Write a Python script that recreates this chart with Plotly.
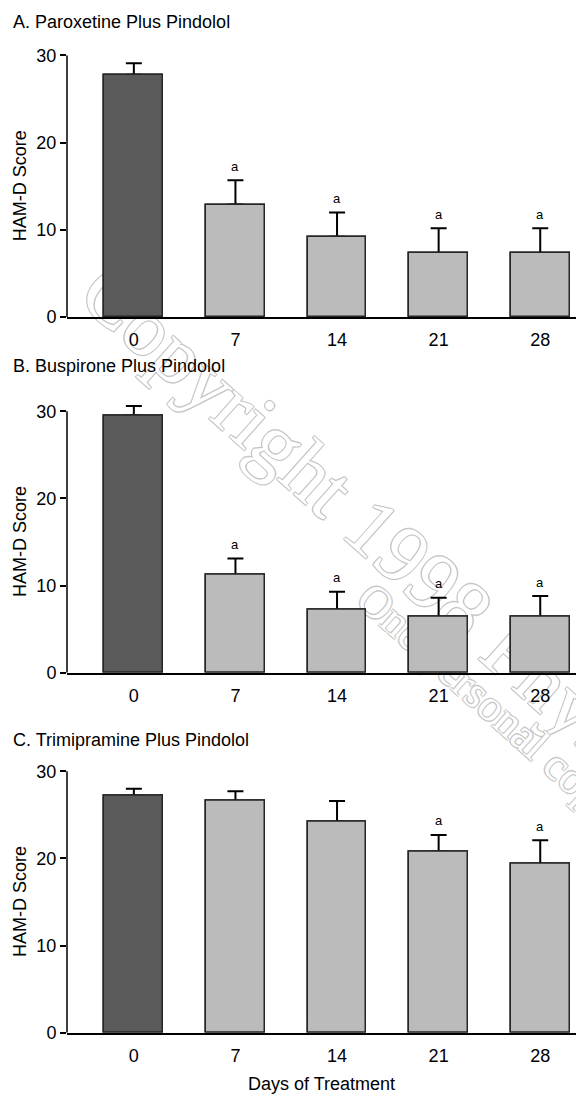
import math
import plotly.graph_objects as go

# ---------------- data ----------------
days = ["0", "7", "14", "21", "28"]

titles = ["A. Paroxetine Plus Pindolol",
          "B. Buspirone Plus Pindolol",
          "C. Trimipramine Plus Pindolol"]

parox_mean = [27.8, 12.9, 9.2, 7.3, 7.3]
parox_sem = [1.3, 2.8, 2.8, 2.9, 2.9]
parox_sig = ["", "a", "a", "a", "a"]

buspi_mean = [29.5, 11.2, 7.2, 6.4, 6.4]
buspi_sem = [1.1, 1.9, 2.1, 2.2, 2.4]
buspi_sig = ["", "a", "a", "a", "a"]

trimi_mean = [27.2, 26.6, 24.2, 20.8, 19.4]
trimi_sem = [0.8, 1.1, 2.4, 1.9, 2.7]
trimi_sig = ["", "", "", "a", "a"]

y_ticks = [0, 10, 20, 30]
y_title = "HAM-D Score"
x_title = "Days of Treatment"
watermark1 = "Copyright 1998 Physicians Postgraduate Press, Inc."
watermark2 = "One personal copy may be printed"

# ---------------- layout helpers ----------------
W, H = 576, 1104
ML, MR = 67, 0
PW = W - ML - MR
Y_TOP = 30          # end of the drawn y-axis line
Y_ROOM = 32         # axis range top (room for error bars above 30)


def px2x(px):
    return (px - ML) / PW


def py2y(py):
    return (H - py) / H


panels = [
    (parox_mean, parox_sem, parox_sig, 56, 320, 21.7),
    (buspi_mean, buspi_sem, buspi_sig, 415, 679, 369),
    (trimi_mean, trimi_sem, trimi_sig, 778.3, 1042.3, 747),
]

FONT = "Liberation Sans, Arial, Helvetica, sans-serif"
DARK = "#5a5a5a"
LIGHT = "#bbbbbb"
EDGE = "#262626"

fig = go.Figure()
annotations = []
shapes = []
layout_axes = {}

for i, (mean, sem, sig, top_px, bot_px, title_py) in enumerate(panels):
    k = "" if i == 0 else str(i + 1)
    xa, ya = "x" + k, "y" + k
    pos = list(range(len(days)))
    colors = [DARK] + [LIGHT] * (len(days) - 1)
    unit = (bot_px - top_px) / Y_TOP
    dom_top_px = top_px - (Y_ROOM - Y_TOP) * unit
    # bars carrying the (upper) error bars
    fig.add_trace(go.Bar(
        x=pos, y=mean, width=0.579,
        marker=dict(color=colors, line=dict(color=EDGE, width=1.5)),
        error_y=dict(type="data", symmetric=False, array=sem,
                     arrayminus=[0] * len(days), color="black",
                     thickness=2, width=8),
        xaxis=xa, yaxis=ya, showlegend=False, hoverinfo="skip",
        cliponaxis=False,
    ))
    # same bars again on top, hiding the lower end of the error bars
    fig.add_trace(go.Bar(
        x=pos, y=mean, width=0.579,
        marker=dict(color=colors, line=dict(color=EDGE, width=1.5)),
        xaxis=xa, yaxis=ya, showlegend=False, hoverinfo="skip",
        cliponaxis=False,
    ))
    dom = [py2y(bot_px), py2y(dom_top_px)]
    layout_axes["xaxis" + k] = dict(
        domain=[0, 1], range=[-0.658, 4.352], anchor=ya,
        tickmode="array", tickvals=pos, ticktext=days,
        showline=True, linecolor="black", linewidth=1.5,
        ticks="outside", ticklen=6, tickcolor="rgba(0,0,0,0)",
        showgrid=False, zeroline=False,
        tickfont=dict(family=FONT, size=18, color="black"),
    )
    layout_axes["yaxis" + k] = dict(
        domain=dom, range=[0, Y_ROOM], anchor=xa,
        tickmode="array", tickvals=y_ticks,
        showline=False,
        ticks="outside", ticklen=6, tickwidth=1.5, tickcolor="black",
        showgrid=False, zeroline=False,
        tickfont=dict(family=FONT, size=18, color="black"),
    )
    # y-axis line from 0 to 30 only
    shapes.append(dict(
        type="line", xref=xa + " domain", yref=ya,
        x0=0, x1=0, y0=0, y1=Y_TOP,
        line=dict(color="black", width=1.5)))
    annotations.append(dict(
        text=titles[i], xref="paper", yref="paper",
        x=px2x(11), y=py2y(title_py), xanchor="left", yanchor="middle",
        showarrow=False, font=dict(family=FONT, size=18, color="black")))
    annotations.append(dict(
        text=y_title, xref="paper", yref="paper",
        x=px2x(20), y=py2y((top_px + bot_px) / 2), xanchor="center",
        yanchor="middle", textangle=-90, showarrow=False,
        font=dict(family=FONT, size=18, color="black")))
    for j, s in enumerate(sig):
        if s:
            annotations.append(dict(
                text=s, x=j, y=mean[j] + sem[j], xref=xa, yref=ya,
                xanchor="center", yanchor="middle", yshift=14,
                showarrow=False,
                font=dict(family=FONT, size=13, color="black")))

annotations.append(dict(
    text=x_title, xref="paper", yref="paper", x=px2x(321.5),
    y=py2y(1094), xanchor="center", yanchor="middle", showarrow=False,
    font=dict(family=FONT, size=18, color="black")))

# watermark (drawn beneath the bars)
ang = math.radians(42)
dx, dy = math.cos(ang), math.sin(ang)
outline = ("1px 1px 0 #c6c6c6, -1px -1px 0 #c6c6c6, "
           "1px -1px 0 #c6c6c6, -1px 1px 0 #c6c6c6")
for txt, (cx, cy), size in [(watermark1, (731, 843), 82),
                            (watermark2, (598, 801), 45)]:
    half = 600
    shapes.append(dict(
        type="line", xref="paper", yref="paper", layer="below",
        x0=px2x(cx - half * dx), y0=py2y(cy - half * dy),
        x1=px2x(cx + half * dx), y1=py2y(cy + half * dy),
        line=dict(width=0, color="rgba(0,0,0,0)"),
        label=dict(text=txt, textposition="middle", yanchor="middle",
                   font=dict(family="Liberation Serif, Times New Roman, serif",
                             size=size, color="white", shadow=outline)),
    ))

fig.update_layout(
    width=W, height=H,
    margin=dict(l=ML, r=MR, t=0, b=0),
    paper_bgcolor="white", plot_bgcolor="rgba(0,0,0,0)",
    annotations=annotations, shapes=shapes,
    barmode="overlay", bargap=0, showlegend=False,
    **layout_axes,
)

fig.write_html(
    "out.html",
    config={"displayModeBar": False},
    post_script="document.body.style.margin='0';"
                "document.body.style.padding='0';",
)
